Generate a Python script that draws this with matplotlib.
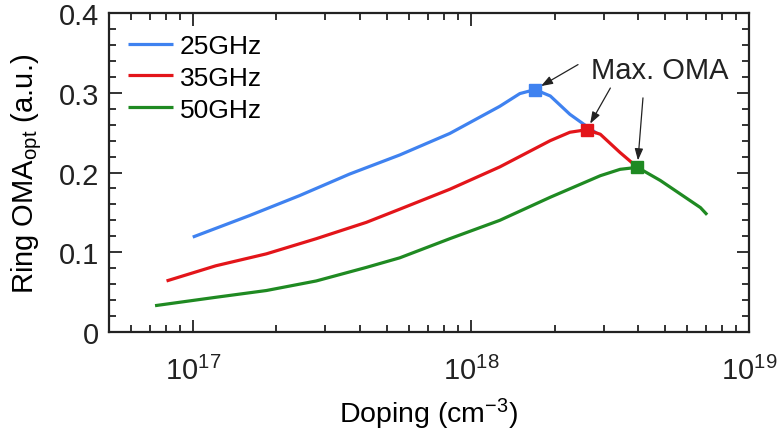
import matplotlib
matplotlib.use("Agg")
import matplotlib.pyplot as plt
import numpy as np
from matplotlib.ticker import LogLocator, FixedLocator, MultipleLocator, FixedFormatter

plt.rcParams['font.family'] = ['Liberation Sans', 'DejaVu Sans']
plt.rcParams['mathtext.fontset'] = 'custom'
plt.rcParams['mathtext.rm'] = 'Liberation Sans'
plt.rcParams['mathtext.it'] = 'Liberation Sans:italic'

# data
doping_25 = [1.0e17, 1.60e17, 2.42e17, 3.66e17, 5.55e17, 8.40e17, 1.27e18,
             1.50e18, 1.70e18, 1.93e18, 2.27e18, 2.68e18, 2.84e18]
oma_25 = [0.119, 0.146, 0.171, 0.198, 0.222, 0.249, 0.283,
          0.299, 0.304, 0.296, 0.273, 0.255, 0.249]

doping_35 = [8.05e16, 1.21e17, 1.84e17, 2.78e17, 4.21e17, 5.55e17, 8.40e17,
             1.27e18, 1.93e18, 2.27e18, 2.61e18, 2.92e18, 3.44e18, 3.97e18]
oma_35 = [0.064, 0.083, 0.098, 0.117, 0.1375, 0.154, 0.179,
          0.207, 0.240, 0.2505, 0.2537, 0.248, 0.225, 0.2065]

doping_50 = [7.32e16, 1.21e17, 1.84e17, 2.78e17, 4.21e17, 5.55e17, 8.40e17,
             1.27e18, 1.93e18, 2.92e18, 3.44e18, 3.97e18, 4.80e18, 6.69e18, 7.07e18]
oma_50 = [0.033, 0.0435, 0.052, 0.064, 0.081, 0.093, 0.117,
          0.140, 0.169, 0.196, 0.204, 0.2065, 0.190, 0.156, 0.147]

labels = ["25GHz", "35GHz", "50GHz"]
colors = ["#3f82f0", "#e3151a", "#1f8a22"]

yticks = [0, 0.1, 0.2, 0.3, 0.4]
ytick_labels = ["0", "0.1", "0.2", "0.3", "0.4"]

fig = plt.figure(figsize=(7.82, 4.39), dpi=100)
ax = fig.add_axes([0.1394, 0.2415, 0.8184, 0.7265])

series = [(doping_25, oma_25), (doping_35, oma_35), (doping_50, oma_50)]
for (x, y), lab, c in zip(series, labels, colors):
    ax.plot(x, y, color=c, lw=2.3, label=lab, solid_capstyle='butt',
            solid_joinstyle='round')

# peak markers
peaks = []
for (x, y), c in zip(series, colors):
    i = int(np.argmax(y))
    peaks.append((x[i], y[i]))
    ax.plot(x[i], y[i], 's', color=c, ms=8, zorder=5)

ax.set_xscale('log')
ax.set_xlim(5e16, 1e19)
ax.set_ylim(0, 0.4)
ax.yaxis.set_major_locator(FixedLocator(yticks))
ax.yaxis.set_major_formatter(FixedFormatter(ytick_labels))
ax.yaxis.set_minor_locator(MultipleLocator(0.02))
ax.xaxis.set_minor_locator(LogLocator(base=10, subs=np.arange(2, 10), numticks=20))

ax.tick_params(which='both', direction='in', top=True, right=True, width=1.3,
               labelsize=21, colors='#222222')
ax.tick_params(which='major', length=9, pad=7)
ax.tick_params(which='minor', length=5)
ax.tick_params(axis='x', which='major', pad=17)
for s in ax.spines.values():
    s.set_linewidth(1.6)
    s.set_color('#222222')

ax.set_xlabel("Doping (cm$^{-3}$)", fontsize=20.5, labelpad=8)
ax.set_ylabel("Ring OMA$_\\mathregular{opt}$ (a.u.)", fontsize=21, labelpad=11)

ax.legend(loc='upper left', bbox_to_anchor=(0.03, 0.935), frameon=False,
          fontsize=19, handlelength=1.7, handletextpad=0.25, labelspacing=0.3,
          borderpad=0, borderaxespad=0)

# "Max. OMA" annotation with arrows to the peaks
ax.text(0.753, 0.82, "Max. OMA", transform=ax.transAxes, fontsize=21,
        va='center', ha='left', color='#222222')
tails = [(31, 18), (17, 30), (4, 50)]
for (px, py), (dx, dy) in zip(peaks, tails):
    ax.annotate("", xy=(px, py), xytext=(dx, dy), textcoords='offset points',
                arrowprops=dict(arrowstyle='-|>,head_length=0.7,head_width=0.25',
                                color='#222222', lw=0.9, shrinkA=0, shrinkB=5,
                                mutation_scale=10))

fig.savefig("out.png", dpi=100)
